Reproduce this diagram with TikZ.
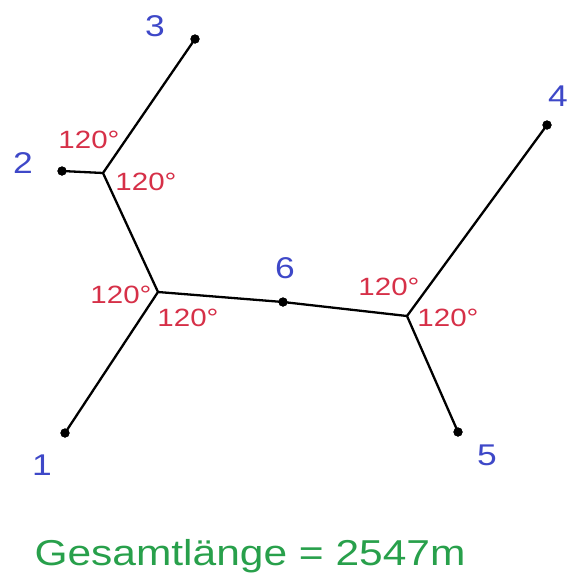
\documentclass[tikz,border=0pt]{standalone}
\usepackage{fontspec}
\setmainfont[FakeStretch=1.18]{Liberation Sans}
\definecolor{numblue}{RGB}{62,72,200}
\definecolor{angred}{RGB}{214,48,72}
\definecolor{totgreen}{RGB}{40,160,75}
\begin{document}
\begin{tikzpicture}[x=1pt,y=-1pt,
  pt/.style={circle,fill=black,inner sep=0pt,minimum size=9pt},
  edge/.style={line width=2.3pt,black},
  num/.style={text=numblue,inner sep=0pt,font=\fontsize{30}{32}\selectfont},
  ang/.style={text=angred,inner sep=0pt,font=\fontsize{25}{27}\selectfont}]
\useasboundingbox (0,0) rectangle (569,579);
% points
\node[pt] (p1) at (65,433) {};
\node[pt] (p2) at (62,171) {};
\node[pt] (p3) at (195,39) {};
\node[pt] (p4) at (547,125) {};
\node[pt] (p5) at (458,432) {};
\node[pt] (p6) at (283,302) {};
\coordinate (s1) at (103,173);
\coordinate (s2) at (158,292);
\coordinate (s3) at (407,316);
% edges
\draw[edge] (p2.center) -- (s1) -- (p3.center);
\draw[edge] (s1) -- (s2);
\draw[edge] (p1.center) -- (s2) -- (p6.center) -- (s3) -- (p4.center);
\draw[edge] (s3) -- (p5.center);
% redraw points on top
\foreach \p in {p1,p2,p3,p4,p5,p6} \fill (\p) circle (4.6pt);
% number labels
\node[num] (l1) at (42,465) {1};
\node[num] (l2) at (23,163) {2};
\node[num] (l3) at (155,26) {3};
\node[num] (l4) at (558,96) {4};
\node[num] (l5) at (487,455) {5};
\node[num] (l6) at (285,268) {6};
% angle labels
\node[ang] (a1) at (89,140) {120°};
\node[ang] (a2) at (146,182) {120°};
\node[ang] (a3) at (121,295) {120°};
\node[ang] (a4) at (188,318) {120°};
\node[ang] (a5) at (389,287) {120°};
\node[ang] (a6) at (448,318) {120°};
% total
\node[text=totgreen,inner sep=0pt,anchor=base,font=\fontsize{36}{40}\selectfont] (tot) at (250,565) {Gesamtlänge = 2547m};
\end{tikzpicture}
\end{document}
